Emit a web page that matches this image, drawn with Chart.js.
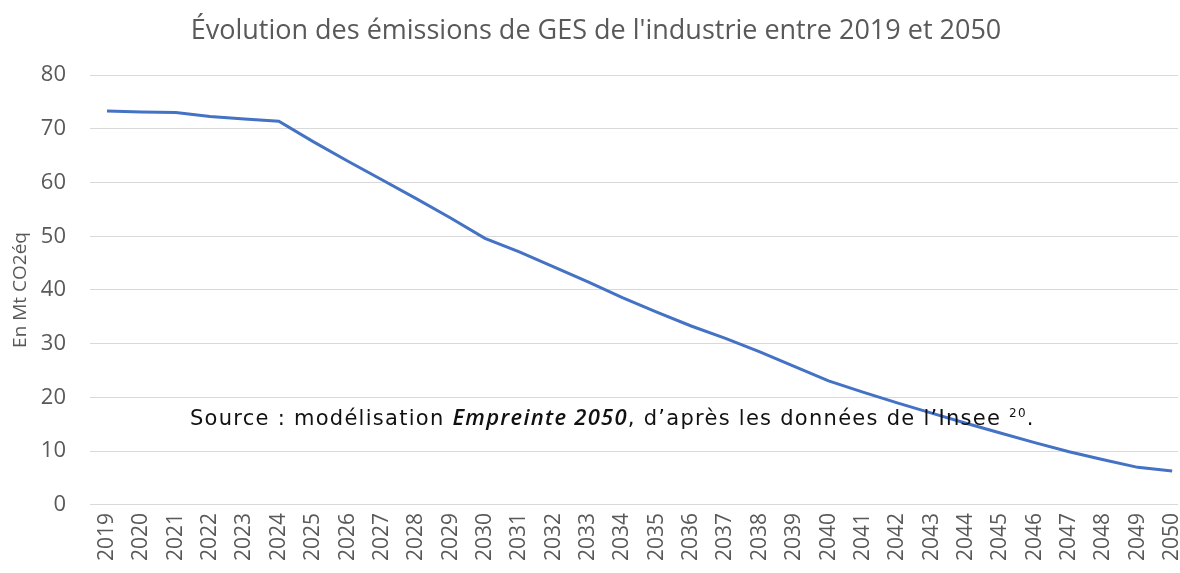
<!DOCTYPE html>
<html><head><meta charset="utf-8">
<script src="https://cdn.jsdelivr.net/npm/chart.js@4.4.1/dist/chart.umd.min.js"></script>
<style>html,body{margin:0;padding:0;background:#fff}#wrap{width:1180px;height:573px}</style>
</head><body><div id="wrap"><canvas id="c"></canvas></div>
<script>
const years = [2019,2020,2021,2022,2023,2024,2025,2026,2027,2028,2029,2030,2031,2032,2033,2034,2035,2036,2037,2038,2039,2040,2041,2042,2043,2044,2045,2046,2047,2048,2049,2050];
const emissions = [73.3,73.1,73.0,72.3,71.8,71.4,67.6,64.0,60.5,57.0,53.4,49.6,47.1,44.3,41.5,38.6,35.9,33.3,31.0,28.5,25.8,23.1,21.0,19.0,17.1,15.2,13.4,11.6,9.9,8.4,7.0,6.3];
const yTicks = [0,10,20,30,40,50,60,70,80];
const titleText = "Évolution des émissions de GES de l'industrie entre 2019 et 2050";
const yTitle = "En Mt CO2éq";

const textPlugin = {
  id:'texts',
  afterDraw(chart){
    const ctx = chart.ctx;
    ctx.save();
    ctx.fillStyle = '#595959';
    ctx.font = 'normal 400 27px "Open Sans"';
    ctx.textAlign = 'center'; ctx.textBaseline = 'middle';
    ctx.fillText(titleText, 596, 31);
    ctx.fillStyle = '#111';
    ctx.textAlign = 'left'; ctx.textBaseline = 'alphabetic';
    const parts = [
      ['normal 400 21px "DejaVu Sans"', 'Source : modélisation '],
      ['italic 600 22px "Open Sans"', 'Empreinte 2050'],
      ['normal 400 21px "DejaVu Sans"', ', d’après les données de l’Insee '],
      ['normal 400 12px "DejaVu Sans"', '20', -8],
      ['normal 400 21px "DejaVu Sans"', '.']
    ];
    let total = 0, chars = 0;
    for (const p of parts){ ctx.font = p[0]; total += ctx.measureText(p[1]).width; chars += p[1].length; }
    const ls = (845 - total) / chars;
    ctx.letterSpacing = ls.toFixed(2) + 'px';
    let x = 190, y = 425;
    for (const p of parts){ ctx.font = p[0]; ctx.fillText(p[1], x, y + (p[2]||0)); x += ctx.measureText(p[1]).width; }
    ctx.restore();
  }
};

new Chart(document.getElementById('c'), {
  type:'line',
  data:{ datasets:[{ data: years.map((yr,i)=>({x:yr,y:emissions[i]})), borderColor:'#4472C4', borderWidth:3, pointRadius:0, tension:0, fill:false }]},
  options:{
    responsive:true, maintainAspectRatio:false, animation:false,
    layout:{ padding:{ left:2, right:2, top:75, bottom:4 } },
    plugins:{ legend:{display:false}, tooltip:{enabled:false}, title:{display:false} },
    scales:{
      x:{ type:'linear', min:2018.505, max:2050.17,
        afterBuildTicks(s){ s.ticks = years.map(v=>({value:v})); },
        afterFit(s){ s.paddingRight = 0; s.paddingLeft = 0; },
        grid:{display:false, drawTicks:false}, border:{display:false},
        ticks:{ color:'#595959', font:{family:'Open Sans', size:21}, minRotation:90, maxRotation:90, autoSkip:false, padding:8, callback:v=>String(v) }
      },
      y:{ min:0, max:80,
        afterBuildTicks(s){ s.ticks = yTicks.map(v=>({value:v})); },
        afterFit(s){ s.paddingTop = 0; s.width = 88; },
        grid:{ color:'#d9d9d9', lineWidth:1, drawTicks:false }, border:{display:false},
        ticks:{ color:'#595959', font:{family:'Open Sans', size:22}, padding:24 },
        title:{ display:true, text:yTitle, color:'#595959', font:{family:'Open Sans', size:19}, padding:{top:7,bottom:10} }
      }
    }
  },
  plugins:[textPlugin]
});
</script></body></html>
